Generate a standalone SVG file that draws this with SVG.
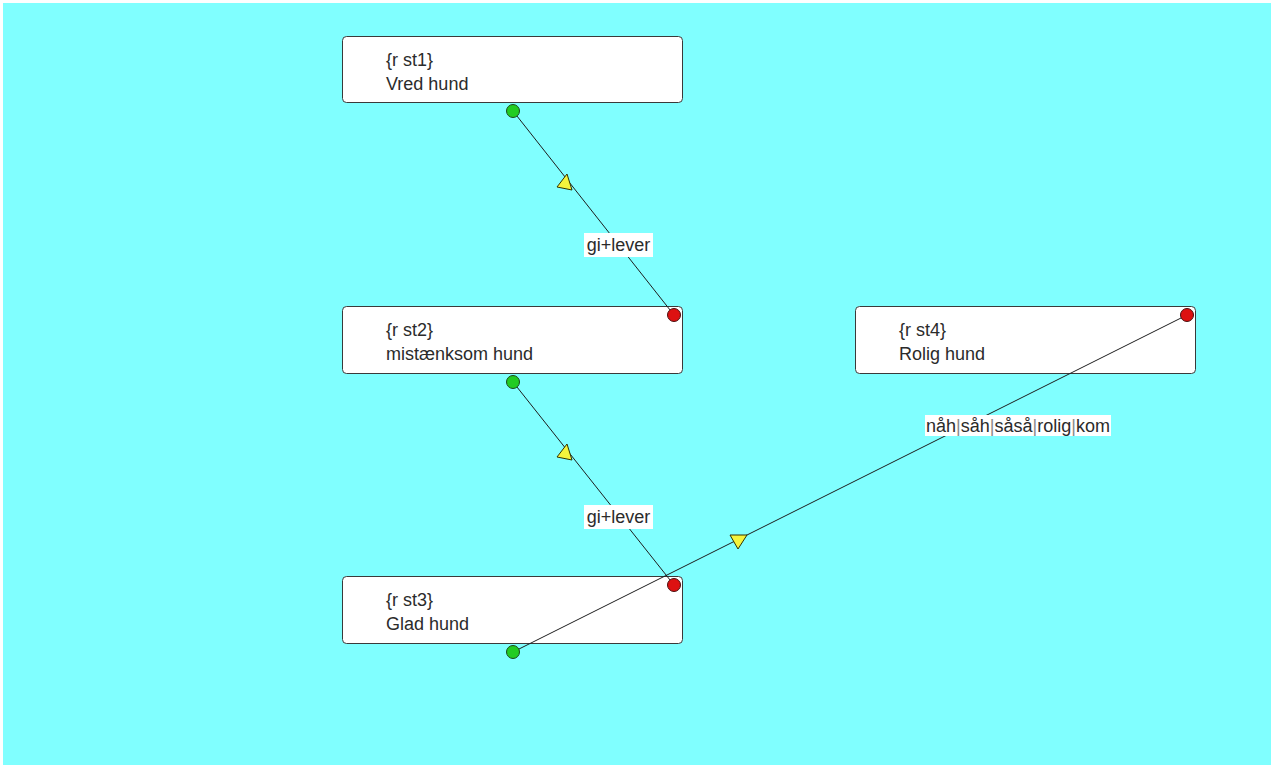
<svg xmlns="http://www.w3.org/2000/svg" width="1271" height="767" viewBox="0 0 1271 767">
  <style>
    .box { fill: #ffffff; stroke: #3a3a3a; stroke-width: 1; }
    .txt { font-family: "Liberation Sans", Arial, sans-serif; font-size: 18px; fill: #2b2b2b; }
    .edge { stroke: #1e1e1e; stroke-width: 1; fill: none; }
    .lbl { fill: #ffffff; }
    .arrow { fill: #f4f43c; stroke: #333300; stroke-width: 1; }
    .src { fill: #22cc22; stroke: #1a4a1a; stroke-width: 1; }
    .dst { fill: #dd1111; stroke: #4a1010; stroke-width: 1; }
    .sep { fill: #8a8a8a; }
  </style>

  <!-- canvas -->
  <rect x="0" y="0" width="1271" height="767" fill="#ffffff"/>
  <rect x="3" y="3" width="1268" height="762" fill="#80ffff"/>

  <!-- states -->
  <g id="st1">
    <rect class="box" x="342.5" y="36.5" width="340" height="66" rx="4"/>
    <text class="txt" x="386" y="66">{r st1}</text>
    <text class="txt" x="386" y="90">Vred hund</text>
  </g>
  <g id="st2">
    <rect class="box" x="342.5" y="306.5" width="340" height="67" rx="4"/>
    <text class="txt" x="386" y="336">{r st2}</text>
    <text class="txt" x="386" y="360">mistænksom hund</text>
  </g>
  <g id="st3">
    <rect class="box" x="342.5" y="576.5" width="340" height="67" rx="4"/>
    <text class="txt" x="386" y="606">{r st3}</text>
    <text class="txt" x="386" y="630">Glad hund</text>
  </g>
  <g id="st4">
    <rect class="box" x="855.5" y="306.5" width="340" height="67" rx="4"/>
    <text class="txt" x="899" y="336">{r st4}</text>
    <text class="txt" x="899" y="360">Rolig hund</text>
  </g>

  <!-- transitions -->
  <g id="connectors">
    <!-- st1 -> st2 -->
    <line class="edge" x1="513" y1="111" x2="674" y2="315"/>
    <polygon class="arrow" points="567,174 557,187 572,190"/>
    <rect class="lbl" x="584" y="233" width="69" height="24"/>
    <text class="txt" x="618.5" y="251" text-anchor="middle">gi+lever</text>

    <!-- st2 -> st3 -->
    <line class="edge" x1="513" y1="382" x2="674" y2="585"/>
    <polygon class="arrow" points="567,444 557,457 572,460"/>
    <rect class="lbl" x="584" y="505" width="69" height="24"/>
    <text class="txt" x="618.5" y="523" text-anchor="middle">gi+lever</text>

    <!-- st3 -> st4 -->
    <line class="edge" x1="513" y1="652" x2="1187" y2="315"/>
    <polygon class="arrow" points="730,535 747,535 738,549"/>
    <rect class="lbl" x="925" y="415" width="186" height="21"/>
    <text class="txt" x="1018" y="432" text-anchor="middle">nåh<tspan class="sep">|</tspan>såh<tspan class="sep">|</tspan>såså<tspan class="sep">|</tspan>rolig<tspan class="sep">|</tspan>kom</text>

    <!-- endpoints -->
    <circle class="src" cx="513" cy="111" r="6.5"/>
    <circle class="dst" cx="674" cy="315" r="6.5"/>
    <circle class="src" cx="513" cy="382" r="6.5"/>
    <circle class="dst" cx="674" cy="585" r="6.5"/>
    <circle class="src" cx="513" cy="652" r="6.5"/>
    <circle class="dst" cx="1187" cy="315" r="6.5"/>
  </g>
</svg>
